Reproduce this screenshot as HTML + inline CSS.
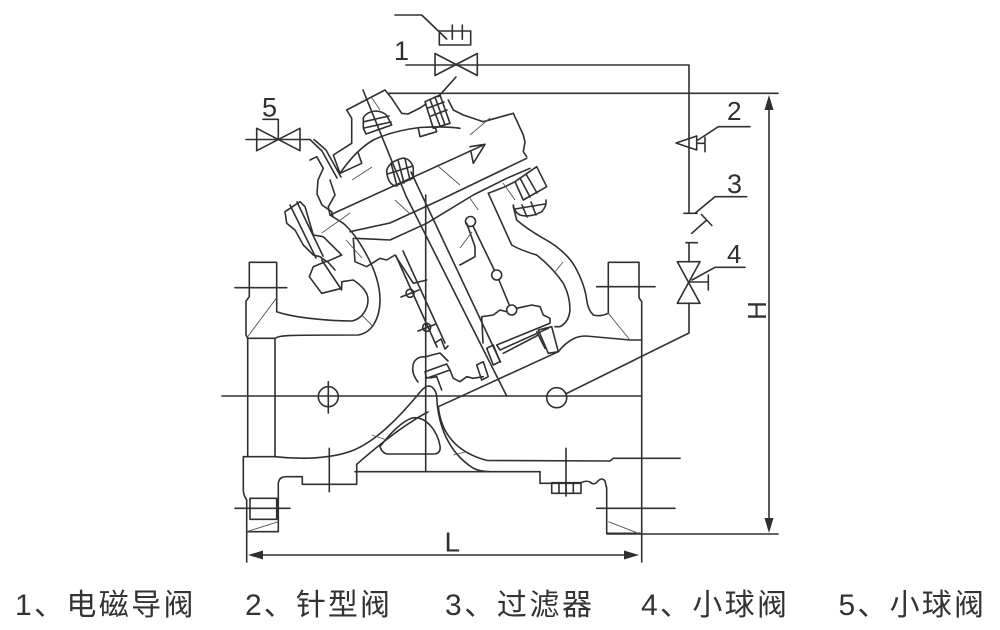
<!DOCTYPE html>
<html><head><meta charset="utf-8">
<style>
html,body{margin:0;padding:0;background:#fff;width:1000px;height:630px;overflow:hidden;}
svg{display:block;}
</style></head><body>
<svg width="1000" height="630" viewBox="0 0 1000 630" xmlns="http://www.w3.org/2000/svg">
<rect width="1000" height="630" fill="#fff"/>

<!-- main strokes -->
<g fill="none" stroke="#303030" stroke-width="1.6" stroke-linejoin="round" stroke-linecap="round">
  <!-- solenoid symbol -->
  <path d="M395,15 H421.7 L446.7,39"/>
  <rect x="439.3" y="31" width="31.4" height="14"/>
  <path d="M452.3,25 V39.3 M462.3,25 V39.3"/>
  <!-- pilot line -->
  <path d="M406,65 H689 V213 M689,243 V262 M689,303 V333 L566.5,393.5"/>
  <!-- valve 1 -->
  <path d="M435,53.5 L477.3,75.5 V53.5 L435,75.5 Z"/>
  <path d="M456,77 L438.3,96.7"/>
  <!-- top extension line -->
  <path d="M388,93.3 H778"/>
  <!-- valve 5 -->
  <path d="M256.7,128.3 L300,150.7 V128.3 L256.7,150.7 Z"/>
  <path d="M246,139.5 H310 L322,151 L337,178"/>
  <path d="M314,139.5 L326,150 L341,177"/>
  <path d="M263,119.3 H278.3 V139.5"/>
  <!-- valve 2 needle -->
  <path d="M676,143 L696.7,136 V150 Z"/>
  <path d="M696.7,143.3 H705 M705,137.3 V151.7"/>
  <path d="M698,140 L718.3,126.7 H750"/>
  <!-- filter 3 -->
  <path d="M684,213.3 H697 M695,213.3 L715,196.7 H746.7"/>
  <path d="M691.7,233.3 L706.7,220 M701.5,214.5 L711.8,225.5"/>
  <path d="M686,242.7 H697.3"/>
  <!-- valve 4 -->
  <path d="M677.3,261.7 H700 L677.3,303.3 H700 Z"/>
  <path d="M689,282 H708.3 M708.3,275 V290"/>
  <path d="M692,280 L715,267.3 H745"/>
  <!-- H dimension -->
  <path d="M769,100 V528"/>
  <path d="M607,534 H778"/>
  <!-- L dimension -->
  <path d="M252,555 H635"/>
  <!-- centre line -->
  <path d="M222,396 H641"/>

  <!-- LEFT FLANGE -->
  <path d="M276.7,311.7 V262.3 H249.3 V296.7 L246,301 V335 L247.7,338.3 V456.7"/>
  <path d="M235,287.7 H286.7"/>
  <path d="M247.7,338.3 H275 V456.7"/>
  <path d="M275,456.7 H243.3 V488 Q243,495 246.7,500 V562"/>
  <path d="M278.3,531.7 V484 Q278.5,477 286,476.7 H302.3 V484.3 H356.7 V464.3"/>
  <path d="M246.7,531.7 H278.3"/>
  <rect x="250" y="498.3" width="26.7" height="21"/>
  <path d="M235,508.3 H290"/>
  <path d="M329.3,448.3 V491.7"/>
  <circle cx="328.3" cy="396.7" r="10"/>
  <path d="M328.3,381.7 V413"/>

  <!-- RIGHT FLANGE -->
  <path d="M608.3,313.3 V262.3 H639 V297.7 L641.7,301.7 V562"/>
  <path d="M596.7,286.7 H655"/>
  <path d="M558.3,351.7 Q566,342 575,338 Q580,336 586,336 L630,340 H641.7"/>
  <path d="M540,472 V483.3 H580 Q586,480 590,482 Q594,486 598,481 Q602,477 605,481 L606.7,488 V533.3 H640"/>
  <rect x="551.7" y="482.7" width="29.3" height="10.6"/>
  <path d="M559,482.7 V493.3 M566,482.7 V493.3 M573.3,482.7 V493.3"/>
  <path d="M566,448.3 V496"/>
  <path d="M596.7,508.3 H675"/>
  <path d="M641.7,458.3 H680"/>
  <circle cx="556.7" cy="397.7" r="10"/>

  <!-- LOWER BODY -->
  <path d="M275,456.7 C300,459.5 332,459 354,450 C378,440 402,414 421,391 Q427,384 432,387 Q436.5,391 436.7,397 C438,425 448,452 473,468 Q480,471.7 490,471.7 H540"/>
  <path d="M355,471.7 H490"/>
  <path d="M438.3,406.7 C441,432 455,452 487,460.5 L610,461 L613.3,458.3 H641.7"/>
  <path d="M356.7,464.3 C372,451 395,432 411.7,421.7 Q419,416.5 428,412"/>
  <path d="M380,446.7 Q382,453 387,454 H435 Q441,453 440,446 Q438,434 430,425 Q421,416 412,418 Q398,423 380,446.7 Z"/>
  <path d="M438.3,406.7 L558.3,351.7"/>

  <!-- UPPER LEFT BODY -->
  <path d="M276.7,311.7 C295,318 330,321 352,321 C362,319 368,309 368,300 C368,292 362,286 353.3,280 L341.7,281.7 V288.3 L321.7,293.3 L309.3,276.7 L313.3,266.7 L327,261 L335,270"/>
  <path d="M275,338.3 C280,335 290,335 358,335 C372,333 380,318 380,300 C380,282 373,266 365,252 C359,241 352,231 343.3,223.3"/>
  <!-- left bolt -->
  <path d="M285,211.7 L300,201.7 L305,206.7 L313.3,235 L323.3,236.7 L328.3,241.7 L341.7,255 L326.7,261.7 L320,256.7 L313.3,255 L303.3,245 L295,230 L286.7,223.3 Z"/>
  <path d="M290,205 L316,258 M297,202 L323,256"/>
  <path d="M321.7,260 L341.7,290"/>
  <!-- hook piece -->
  <path d="M310,160 L316.7,156.7 L323.3,168.3 L318,180 L317,194 L322,205 L331.7,211.7 L333,217"/>
  <path d="M330,180 L335,195 L328.3,206.7 L330,215 L343.3,223.3"/>

  <!-- COVER -->
  <path d="M340,173.3 L333.3,155 L351.7,143.3 V118.3 L346.7,110 L385,90 L391.7,98.3 L401.7,113.3 L408,114 L420,108 L426,104 M448.3,100 L453.3,110 L463.3,115 L483.3,121.7 L513.3,113.3 L523.3,135 L525,142 L523.3,151.7 L526.7,156.7"/>
  <path d="M340,173.3 L361.7,163.3 L358.3,153.3"/>
  <path d="M340,173.3 Q356,150 373.3,140 Q392,131 420,127.5 Q445,126 460,128.3"/>
  <path d="M418.3,128.3 L420,136.7 L436.7,131.7 L435,126.7"/>
  <!-- arrow -->
  <path d="M330,215 L485,144.3 L470,146.7 M485,144.3 L473.3,163.3 L471,152"/>
  <!-- top cap nut -->
  <path d="M363.3,128.3 V118 Q366,112 376,111 Q386,112 388,118 L391.7,125 L366,134 Z"/>
  <path d="M364,121.7 L389,116 M364,128 L391,122"/>
  <!-- right top bolt -->
  <path d="M425,101.7 L440,95 L450,123.3 L433.3,128.3 Z"/>
  <path d="M430,99.5 L440,126 M435,97 L445,125 M428,108 L444,102 M431,116 L447,110"/>
  <!-- middle bolt -->
  <path d="M386.7,170 Q390,161 403.3,158 Q411,159 413.3,168 V178 L395,186 Q387,183 386.7,170 Z"/>
  <path d="M391,163 L397,186 M398,160 L404,183 M405,159 L410,180 M387.5,174 L413,166"/>
  <!-- diaphragm plates -->
  <path d="M350,231.7 L390,223 L440,200 L526.7,158.3"/>
  <path d="M355,238.3 L390,240 L426.7,223.3 L473.3,195 L506.7,178.3 L530,168.3"/>
  <path d="M353.3,238.3 L355,261.7 L366.7,266.7 L380,258.3 L386.7,260 L395,255 L413.3,283.3 L426.7,280"/>

  <!-- stem / rod -->
  <path d="M363,90 L406,196 L506.7,396"/>
  <path d="M411,172 L500.5,362"/>
  <path d="M425.7,195 V471.7"/>
  <path d="M396,256 L437,347 M403,251 L445,343"/>
  <circle cx="410" cy="293.3" r="4"/>
  <circle cx="426.7" cy="327.3" r="4"/>
  <path d="M401,297 L419,290 M418,331 L436,324"/>
  <path d="M435,343 L441,339 L445,349 L448,346"/>
  <!-- disc holder -->
  <path d="M418,382 Q410,372 414,362 Q418,356 425,357 L432,355 L440,353 L448,361"/>
  <path d="M425,371.7 L446.7,364 L450,370 L426.7,378.3 Z"/>
  <path d="M450,370 L453.3,378.3 L460,381.7 L466.7,376.7 L473.3,378.3 L483.3,376.7"/>
  <path d="M430,378 L436.7,376.7 L441.7,390"/>
  <path d="M476.7,365 L483.3,361.7 L488.3,376.7 L481.7,380 Z"/>
  <path d="M486.7,348.3 L493.3,345 L500,361.7 L493.3,365 Z"/>

  <!-- piston housing -->
  <path d="M466.7,223.3 L475,246.7 V256.7 L460,265"/>
  <circle cx="470.5" cy="221.5" r="5"/>
  <circle cx="496.7" cy="275" r="5"/>
  <circle cx="511.7" cy="310" r="5"/>
  <path d="M473,226 L494.5,270.5 M498.7,279.5 L509.5,305.5"/>
  <path d="M481.7,316.7 L493.3,315 L500,310 L506.7,311.7 M516.7,308.3 L531.7,305 L540,306.7 L543.3,315 L550,318.3 V323.3 L496.7,345 L500,350 L548.3,328.3"/>
  <path d="M481.7,316.7 L483,343"/>
  <path d="M503.3,353.3 L538.3,335"/>
  <path d="M536.7,331.7 L545,348.3"/>
  <path d="M538.3,330 L551.7,326.7 L558.3,351.7 L548.3,353.3 Z"/>

  <!-- right arm -->
  <path d="M608.3,313.3 Q600,317 593.3,315 Q588,310 586.7,300 Q585,285 575,266.7 Q565,250 543.3,238.3 Q527,229 516.7,220 L513.3,206.7"/>
  <path d="M488.3,193.3 L511.7,245 Q520,250 536.7,255 Q553,268 563.3,283.3 Q570,296 570,310 Q569,322 560,326.7 L555,326.7"/>
  <path d="M488.3,193.3 L505,186.7 L515,181.7"/>
  <path d="M515,181.7 L536.7,166.7 L546.7,186.7 L523.3,200 Z"/>
  <path d="M520,178 L530,197 M526,174 L537,193"/>
  <path d="M513.3,205 Q514,212 520,215 Q530,218 541.7,211.7 Q547,206 546,200"/>
  <path d="M522,205 L527,217 M531,202 L536,215 M515,209 L545,204"/>
</g>

<!-- filled arrowheads -->
<g fill="#303030" stroke="none">
  <path d="M769,95 L764.5,110 H773.5 Z M769,533 L764.5,518 H773.5 Z"/>
  <path d="M248,555 L263,550.5 V559.5 Z M639,555 L624,550.5 V559.5 Z"/>
</g>

<!-- thin hatch lines -->
<g fill="none" stroke="#555" stroke-width="0.9">
  <path d="M247.7,336.7 L276.7,297.7"/>
  <path d="M246.7,531.7 L278.3,521.7"/>
  <path d="M608.3,313.3 L630,340"/>
  <path d="M608.3,521.7 L638.3,533.3"/>
  <path d="M361.7,315 L373.3,326.7"/>
  <path d="M371.7,435 L386.7,440"/>
  <path d="M453.3,455 L466.7,451.7"/>
  <path d="M554,273 L563,262"/>
  <path d="M321.7,233 L350,213"/>
  <path d="M352,180 L372,167"/>
  <path d="M436.7,165 L460,185"/>
  <path d="M470,198.3 L478.3,210"/>
  <path d="M503,183 L515,200"/>
  <path d="M470,135 L490,118"/>
  <path d="M372,98 L380,110"/>
  <path d="M395,200 L410,214"/>
  <path d="M460,248 L472,232"/>
  <path d="M346,240 L362,258"/>
</g>

<!-- labels -->
<g font-family="'Liberation Sans', 'Noto Sans CJK SC', sans-serif" fill="#303030">
  <text x="394" y="60" font-size="27">1</text>
  <text x="262" y="116.7" font-size="27">5</text>
  <text x="727" y="120" font-size="26">2</text>
  <text x="727" y="193" font-size="27">3</text>
  <text x="727" y="263" font-size="26">4</text>
  <text x="444.5" y="551.7" font-size="28">L</text>
  <text transform="translate(766,310.5) rotate(-90)" text-anchor="middle" font-size="26">H</text>
</g>

<g font-family="'Liberation Sans', 'Noto Sans CJK SC', sans-serif" font-size="30" fill="#333">
  <text x="15" y="615" textLength="178.5" lengthAdjust="spacing">1、电磁导阀</text>
  <text x="245" y="615" textLength="145" lengthAdjust="spacing">2、针型阀</text>
  <text x="445" y="615" textLength="147" lengthAdjust="spacing">3、过滤器</text>
  <text x="641" y="615" textLength="146" lengthAdjust="spacing">4、小球阀</text>
  <text x="838.5" y="615" textLength="145.5" lengthAdjust="spacing">5、小球阀</text>
</g>
</svg>
</body></html>
